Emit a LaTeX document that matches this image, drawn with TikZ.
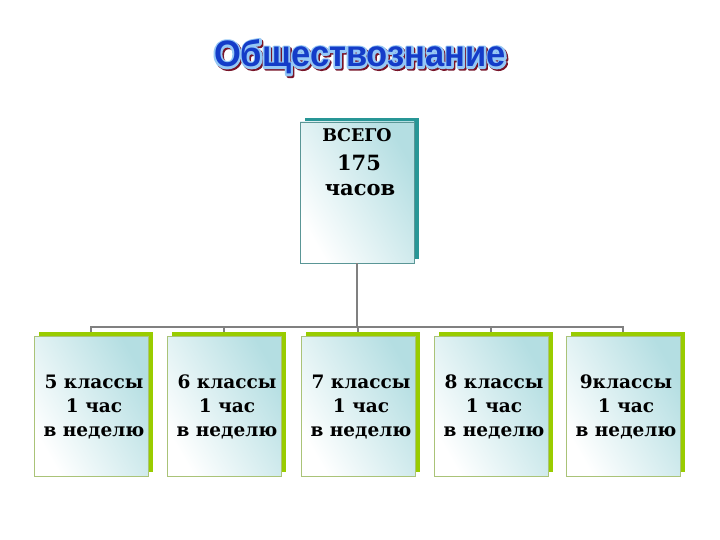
\documentclass[tikz,border=0pt]{standalone}
\usepackage{fontspec}
\setmainfont{DejaVu Serif}
\newfontfamily\titlefont{Liberation Sans}
\usetikzlibrary{calc}
\definecolor{linegray}{RGB}{128,128,128}
\definecolor{tealshadow}{RGB}{40,150,150}
\definecolor{greenshadow}{RGB}{153,204,0}
\definecolor{tealborder}{RGB}{90,150,150}
\definecolor{greenborder}{RGB}{170,195,120}
\definecolor{boxtint}{RGB}{180,222,226}
\definecolor{titleblue}{RGB}{20,60,200}
\definecolor{titlehalo}{RGB}{150,200,245}
\definecolor{titleshadow}{RGB}{120,20,40}
\newcommand{\twd}{\titlefont\bfseries Обществознание}
\newcommand{\strk}[1]{\special{pdf:literal direct 1 j #1 w 2 Tr}}
\newcommand{\unstrk}{\special{pdf:literal direct 0 Tr}}
\newcommand{\ttext}{\resizebox{292pt}{27pt}{%
  \rlap{\kern0.45pt\raisebox{-0.45pt}{\color{titleshadow}\strk{1.1}\twd\unstrk}}%
  \rlap{\color{titlehalo}\strk{1.1}\twd\unstrk}%
  {\color{titleblue}\twd}}}
\tikzset{
  boxfront/.style={draw=#1, line width=0.8pt, shading=axis, left color=white, middle color=white!80!boxtint, right color=boxtint, shading angle=120},
  boxtxt/.style={font=\bfseries\fontsize{18.5}{24}\selectfont, align=center, text=black},
  conn/.style={draw=linegray, line width=1.8pt},
}
\begin{document}
\begin{tikzpicture}[x=1pt,y=-1pt]
\useasboundingbox[fill=white] (0,0) rectangle (720,540);
% title
\node[anchor=base, inner sep=0] (title) at (360,67) {\ttext};
% top box
\fill[tealshadow] (305,118) rectangle (419,259);
\path[boxfront=tealborder] (300,122) rectangle (414,263);
\node[inner sep=0] (top) at (357,192.5) [minimum width=114pt, minimum height=141pt] {};
\node[boxtxt, font=\bfseries\fontsize{17.5}{18}\selectfont] (t1) at (357,135) {ВСЕГО};
\node[boxtxt, font=\bfseries\fontsize{21}{24}\selectfont] (t2) at (359,163) {175};
\node[boxtxt, font=\bfseries\fontsize{21}{24}\selectfont] (t3) at (360,190) {часов};
% bottom boxes
\coordinate (bus) at (357,327);
\foreach \x/\lab [count=\i] in {34/{5 классы\\ 1 час\\в неделю},167/{6 классы\\ 1 час\\в неделю},301/{7 классы\\ 1 час\\в неделю},434/{8 классы\\ 1 час\\в неделю},566/{9классы\\ 1 час\\в неделю}}{
  \fill[greenshadow] (\x+5,332) rectangle (\x+119,472);
  \path[boxfront=greenborder] (\x,336) rectangle (\x+114,476);
  \node[inner sep=0, minimum width=114pt, minimum height=140pt] (b\i) at (\x+57,406) {};
  \node[boxtxt] (bl\i) at (\x+60,407) {\lab};
  \coordinate (d\i) at (\x+57,332);
}
% connectors
\draw[conn] (top.south) -- (bus);
\draw[conn] (d1) -- (d1 |- bus) -- (d5 |- bus) -- (d5);
\foreach \i in {2,3,4}{ \draw[conn] (d\i |- bus) -- (d\i); }
\end{tikzpicture}
\end{document}
